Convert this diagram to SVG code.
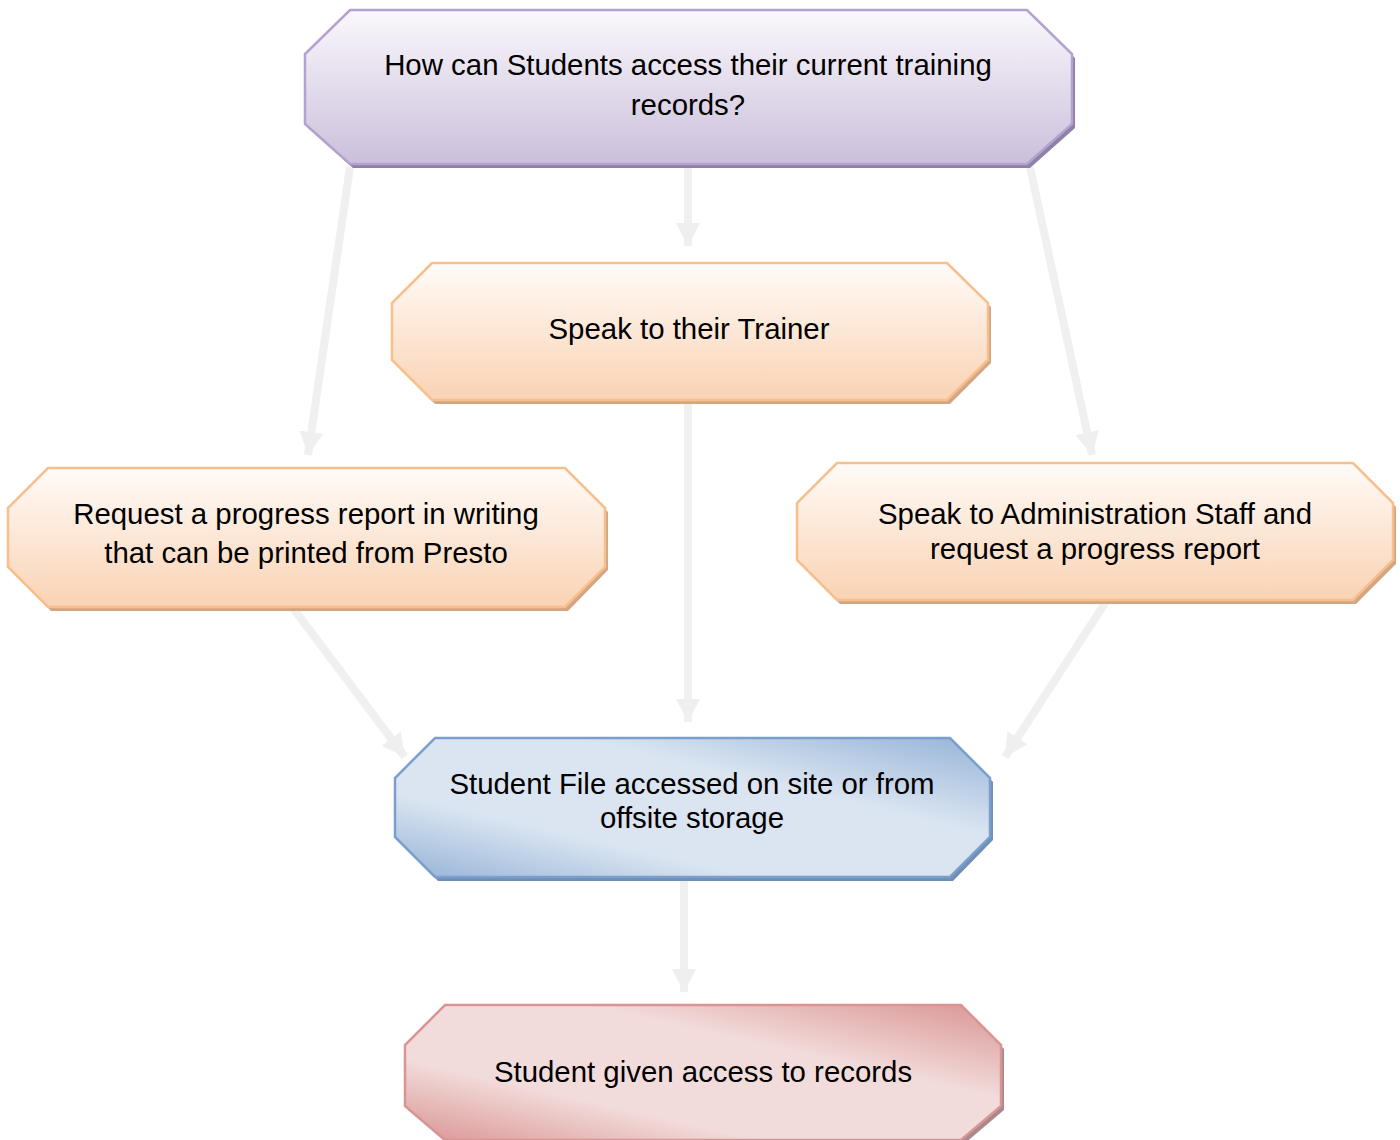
<svg xmlns="http://www.w3.org/2000/svg" width="1400" height="1140" viewBox="0 0 1400 1140">
<defs>
<linearGradient id="gPurple" x1="0" y1="0" x2="0" y2="1">
<stop offset="0" stop-color="#faf8fc"/><stop offset="1" stop-color="#cbbfdb"/>
</linearGradient>
<linearGradient id="gOrange" x1="0" y1="0" x2="0" y2="1">
<stop offset="0" stop-color="#fffbf8"/><stop offset="1" stop-color="#f9d3b4"/>
</linearGradient>
<linearGradient id="gBlue" x1="0" y1="1" x2="1" y2="0">
<stop offset="0" stop-color="#95b3d7"/><stop offset="0.3" stop-color="#dbe5f1"/><stop offset="0.65" stop-color="#dbe5f1"/><stop offset="1" stop-color="#95b3d7"/>
</linearGradient>
<linearGradient id="gRed" x1="0" y1="1" x2="1" y2="0">
<stop offset="0" stop-color="#d99594"/><stop offset="0.3" stop-color="#f2dcdb"/><stop offset="0.65" stop-color="#f2dcdb"/><stop offset="1" stop-color="#d99594"/>
</linearGradient>
<marker id="arr" markerUnits="userSpaceOnUse" markerWidth="30" markerHeight="30" viewBox="0 0 30 30" refX="23" refY="15" orient="auto">
<path d="M0,3 L23,15 L0,27 Z" fill="#efefef"/>
</marker>
</defs>
<style>
.lbl{font-family:"Liberation Sans",Arial,sans-serif;font-size:29.4px;fill:#000;text-anchor:middle}
.conn{stroke:#f0f0f0;stroke-width:8;fill:none;marker-end:url(#arr)}
.bd{stroke-width:2.5}
</style>
<g id="connectors">
<line class="conn" x1="350" y1="167" x2="308" y2="455"/>
<line class="conn" x1="688" y1="168" x2="688" y2="246"/>
<line class="conn" x1="1030" y1="167" x2="1092" y2="455"/>
<line class="conn" x1="688" y1="398" x2="688" y2="722"/>
<line class="conn" x1="290" y1="604" x2="405" y2="757"/>
<line class="conn" x1="1107" y1="600" x2="1005" y2="757"/>
<line class="conn" x1="684" y1="877" x2="684" y2="992"/>
</g>
<g id="n1">
<polygon points="353,14 1030,14 1075,58 1075,128 1030,168 353,168 308,128 308,58" fill="#8f80a8"/>
<polygon class="bd" points="350,10 1027,10 1072,54 1072,124 1027,164 350,164 305,124 305,54" fill="url(#gPurple)" stroke="#b3a2cf"/>
<text class="lbl" x="688" y="75">How can Students access their current training</text>
<text class="lbl" x="688" y="115">records?</text>
</g>
<g id="n2">
<polygon points="435,267 950,267 991,307 991,363 950,404 435,404 395,363 395,307" fill="#d2a683"/>
<polygon class="bd" points="432,263 947,263 988,303 988,360 947,400 432,400 392,360 392,303" fill="url(#gOrange)" stroke="#f8bf8c"/>
<text class="lbl" x="689" y="339">Speak to their Trainer</text>
</g>
<g id="n3">
<polygon points="51,472 568,472 608,512 608,570 568,611 51,611 11,570 11,512" fill="#d2a683"/>
<polygon class="bd" points="48,468 565,468 605,508 605,567 565,607 48,607 8,567 8,508" fill="url(#gOrange)" stroke="#f8bf8c"/>
<text class="lbl" x="306" y="524">Request a progress report in writing</text>
<text class="lbl" x="306" y="563">that can be printed from Presto</text>
</g>
<g id="n4">
<polygon points="840,467 1356,467 1396,507 1396,564 1356,604 840,604 800,564 800,507" fill="#d2a683"/>
<polygon class="bd" points="837,463 1353,463 1393,503 1393,560 1353,600 837,600 797,560 797,503" fill="url(#gOrange)" stroke="#f8bf8c"/>
<text class="lbl" x="1095" y="524">Speak to Administration Staff and</text>
<text class="lbl" x="1095" y="559">request a progress report</text>
</g>
<g id="n5">
<polygon points="438,742 953,742 993,782 993,840 953,881 438,881 398,840 398,782" fill="#6f8fb5"/>
<polygon class="bd" points="435,738 950,738 990,778 990,837 950,877 435,877 395,837 395,778" fill="url(#gBlue)" stroke="#7b9fcc"/>
<text class="lbl" x="692" y="794">Student File accessed on site or from</text>
<text class="lbl" x="692" y="828">offsite storage</text>
</g>
<g id="n6">
<polygon points="448,1009 964,1009 1004,1049 1004,1110 964,1144 448,1144 408,1110 408,1049" fill="#a88a8e"/>
<polygon class="bd" points="445,1005 961,1005 1001,1045 1001,1106 961,1140 445,1140 405,1106 405,1045" fill="url(#gRed)" stroke="#d99594"/>
<text class="lbl" x="703" y="1082">Student given access to records</text>
</g>
</svg>
